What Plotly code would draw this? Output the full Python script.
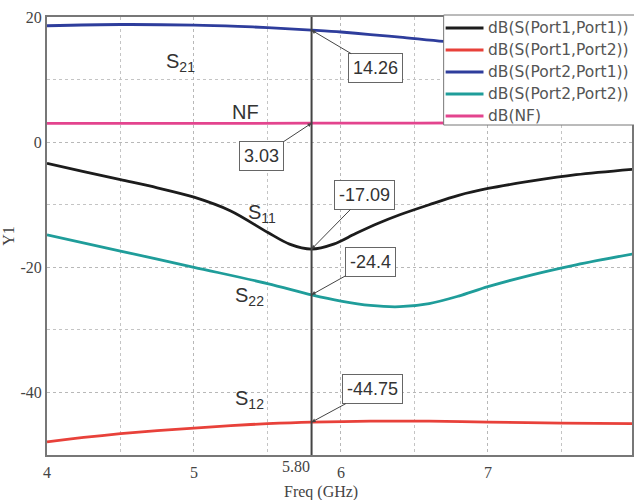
import plotly.graph_objects as go

# Frequency sweep (GHz) and simulated responses (dB)
f_s11 = [4.0, 4.25, 4.5, 4.75, 5.0, 5.25, 5.5, 5.65, 5.8, 5.95, 6.1, 6.25, 6.4, 6.6, 6.8, 7.0, 7.3, 7.6, 8.0]
s11 = [-3.4, -4.7, -6.0, -7.3, -8.8, -11.0, -14.4, -16.3, -17.09, -16.3, -14.6, -13.0, -11.6, -10.0, -8.5, -7.4, -6.2, -5.2, -4.3]

f_s12 = [4.0, 4.25, 4.5, 4.75, 5.0, 5.25, 5.5, 5.8, 6.2, 6.6, 7.0, 7.5, 8.0]
s12 = [-47.9, -47.2, -46.6, -46.1, -45.7, -45.3, -45.0, -44.75, -44.6, -44.6, -44.75, -44.9, -45.0]

f_s21 = [4.0, 4.5, 5.0, 5.3, 5.5, 5.8, 6.0, 6.2, 6.4, 6.7, 7.0, 7.5, 8.0]
s21 = [18.6, 18.8, 18.7, 18.5, 18.3, 17.9, 17.6, 17.2, 16.8, 16.1, 15.6, 15.0, 14.5]

f_s22 = [4.0, 4.5, 5.0, 5.5, 5.8, 6.0, 6.2, 6.4, 6.6, 6.8, 7.0, 7.3, 7.6, 8.0]
s22 = [-14.8, -17.4, -20.0, -22.6, -24.4, -25.4, -26.1, -26.3, -25.8, -24.6, -23.1, -21.2, -19.6, -17.8]

f_nf = [4.0, 5.0, 5.8, 6.5, 7.0, 8.0]
nf = [3.0, 3.0, 3.03, 3.05, 3.1, 3.2]

marker_freq = 5.8
# marker readouts: (value, text, box offset x px, box offset y px)
marker_readouts = [
    (17.9, "14.26", 64, 38),
    (3.03, "3.03", -50, 33),
    (-17.09, "-17.09", 53, -54),
    (-24.4, "-24.4", 59, -33),
    (-44.75, "-44.75", 61, -33),
]

# curve name labels: (freq, dB, text)
curve_labels = [
    (4.905, 12.8, "S<sub>21</sub>"),
    (5.35, 4.85, "NF"),
    (5.46, -11.4, "S<sub>11</sub>"),
    (5.38, -24.6, "S<sub>22</sub>"),
    (5.38, -41.2, "S<sub>12</sub>"),
]

series = [
    ("dB(S(Port1,Port1))", f_s11, s11, "#1c1c1c"),
    ("dB(S(Port1,Port2))", f_s12, s12, "#e8413a"),
    ("dB(S(Port2,Port1))", f_s21, s21, "#2e3d9c"),
    ("dB(S(Port2,Port2))", f_s22, s22, "#1f9d9a"),
    ("dB(NF)", f_nf, nf, "#e3448e"),
]

x_ticks = [4, 5, 6, 7]
y_ticks = [-40, -20, 0, 20]
y_ticktext = ["-40", "-20", "0", "20"]

fig = go.Figure()
for name, fx, fy, color in series:
    fig.add_trace(go.Scatter(
        x=fx, y=fy, name=name, mode="lines", showlegend=False,
        line=dict(color=color, width=2.8, shape="spline", smoothing=0.9),
    ))

grid = dict(showgrid=True, gridcolor="#b8b8b8", griddash="dot", gridwidth=1)

fig.update_layout(
    width=634, height=500,
    margin=dict(l=47, r=0, t=17, b=45),
    paper_bgcolor="white", plot_bgcolor="white",
    font=dict(family="Liberation Serif", size=16, color="#444"),
    showlegend=False,
    xaxis=dict(
        range=[4, 7.98], tickvals=x_ticks, ticks="", ticklabelstandoff=2,
        showline=True, linecolor="#777", linewidth=2, mirror=True,
        zeroline=False, **grid,
        minor=dict(dtick=0.5, tick0=4, showgrid=True, gridcolor="#c4c4c4", griddash="dot", gridwidth=1),
        tickfont=dict(family="Liberation Serif", size=16, color="#444"),
    ),
    yaxis=dict(
        range=[-50, 20], tickvals=y_ticks, ticktext=y_ticktext, ticks="",
        showline=True, linecolor="#777", linewidth=2, mirror=True,
        zeroline=False, **grid,
        minor=dict(dtick=10, tick0=0, showgrid=True, gridcolor="#c4c4c4", griddash="dot", gridwidth=1),
        tickfont=dict(family="Liberation Serif", size=16, color="#444"),
        title=dict(text="Y1", standoff=4, font=dict(family="Liberation Serif", size=16, color="#444")),
    ),
)

# marker line
fig.add_shape(type="line", xref="x", yref="paper", x0=marker_freq, x1=marker_freq, y0=0, y1=1,
              line=dict(color="#444", width=2), layer="above")

# legend box drawn over the upper right of the plot, running past the right edge
PLOT_L, PLOT_W, PLOT_B, PLOT_H = 47, 587, 455, 438


def px_x(px):
    return (px - PLOT_L) / PLOT_W


def px_y(py):
    return (PLOT_B - py) / PLOT_H


fig.add_shape(type="rect", xref="paper", yref="paper",
              x0=px_x(445), x1=px_x(700), y0=px_y(125), y1=px_y(15),
              fillcolor="white", line=dict(color="#777", width=1), layer="above")
row_gap = 22
for i, (name, _, _, color) in enumerate(series):
    row_y = 28 + i * row_gap
    fig.add_shape(type="line", xref="paper", yref="paper",
                  x0=px_x(447), x1=px_x(485), y0=px_y(row_y), y1=px_y(row_y),
                  line=dict(color=color, width=3), layer="above")
    fig.add_annotation(x=px_x(488), y=px_y(row_y), xref="paper", yref="paper",
                       xanchor="left", yanchor="middle", text=name, showarrow=False,
                       font=dict(family="DejaVu Sans", size=15.5, color="#555"))

# marker readout boxes
for val, txt, ax, ay in marker_readouts:
    fig.add_annotation(
        x=marker_freq, y=val, xref="x", yref="y", text=txt,
        showarrow=True, ax=ax, ay=ay, arrowhead=2, arrowsize=0.8, arrowwidth=1, arrowcolor="#444",
        bgcolor="white", bordercolor="#666", borderwidth=1, borderpad=4,
        font=dict(family="Liberation Sans", size=18, color="#333"),
    )

# curve name labels
for fx, fy, txt in curve_labels:
    fig.add_annotation(x=fx, y=fy, xref="x", yref="y", text=txt, showarrow=False,
                       font=dict(family="Liberation Sans", size=20, color="#333"))

# marker frequency label and the clipped last tick
fig.add_annotation(x=marker_freq, y=0, xref="x", yref="paper", yanchor="top", xanchor="right",
                   yshift=-1, text="5.80", showarrow=False,
                   font=dict(family="Liberation Serif", size=16, color="#444"))
fig.add_annotation(x=8, y=0, xref="x", yref="paper", yanchor="top", yshift=-5, text="8",
                   showarrow=False, font=dict(family="Liberation Serif", size=16, color="#444"))

# x-axis title
fig.add_annotation(x=0.468, y=-0.084, xref="paper", yref="paper", yanchor="middle",
                   text="Freq (GHz)", showarrow=False,
                   font=dict(family="Liberation Serif", size=16, color="#444"))

fig.write_html("out.html")
